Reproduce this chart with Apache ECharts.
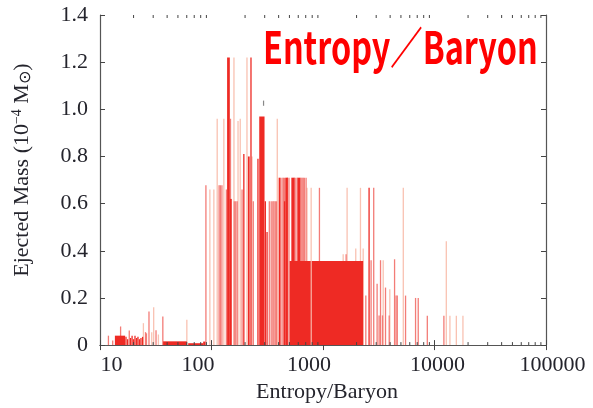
<!DOCTYPE html>
<html>
<head>
<meta charset="utf-8">
<script src="https://cdn.jsdelivr.net/npm/echarts@6/dist/echarts.min.js"></script>
<style>html,body{margin:0;padding:0;background:#fff;}#c{width:593px;height:408px;}</style>
</head>
<body>
<div id="c"></div>
<script>
// ---- data (entropy per baryon, ejected mass in 1e-4 Msun) ----
const darkBins = [ // [from, to, mass]
  [13.6, 16.8, 0.040], [36.8, 60.1, 0.016], [61.8, 84.2, 0.008], [84.2, 88, 0.015],
  [138, 146, 1.22], [146, 152, 0.62], [212, 220, 0.80], [268, 299, 0.97],
  [400, 417, 0.71], [446, 459, 0.61], [459, 484, 0.71], [520, 554, 0.71], [593, 628, 0.71],
  [502, 776, 0.357], [792, 2293, 0.357]
];
const darkBars = [ // [entropy, mass]
  [17.1, 0.035], [17.7, 0.025], [18.8, 0.030], [19.4, 0.040], [20.0, 0.025], [20.6, 0.040],
  [21.3, 0.030], [21.9, 0.035], [22.6, 0.025], [23.3, 0.030], [24.1, 0.035],
  [195, 0.81], [226, 1.22], [261, 0.79], [304, 0.61], [315, 0.48], [2590, 0.667]
];
const mediumBars = [
  [11.9, 0.040], [13.0, 0.020], [15.3, 0.079], [18.3, 0.062], [25.6, 0.055], [26.1, 0.050],
  [27.5, 0.142], [31.8, 0.063], [36.6, 0.121],
  [89.1, 0.678], [117, 0.678], [120, 0.678], [124, 0.678], [136, 0.66], [148, 0.96],
  [160, 0.61], [165, 0.61], [170, 0.61], [188, 0.66], [237, 0.61],
  [330, 0.61], [343, 0.61], [355, 0.61], [363, 0.61], [373, 0.61], [383, 0.61],
  [429, 0.71], [441, 0.71], [453, 0.71], [479, 0.71], [495, 0.71],
  [554, 0.71], [571, 0.71], [590, 0.71], [636, 0.71], [650, 0.71], [665, 0.71], [680, 0.71], [705, 0.71],
  [929, 0.667], [1612, 0.385], [2421, 0.21], [2700, 0.36], [2850, 0.667], [3057, 0.26],
  [3186, 0.126], [3280, 0.36], [3417, 0.126], [3636, 0.244], [3925, 0.126], [4384, 0.364],
  [4521, 0.21], [4636, 0.21], [5500, 0.21], [6762, 0.20], [7147, 0.20], [8621, 0.124], [12140, 0.124]
];
const lightBars = [
  [24.5, 0.093], [29.1, 0.055], [30.3, 0.16], [33.4, 0.045], [60.1, 0.107],
  [96.7, 0.66], [105, 0.66], [112.5, 0.96], [129, 0.96], [159, 1.22], [173, 0.95], [181, 0.96],
  [208, 1.22], [231, 0.80], [389, 0.96],
  [719, 0.667], [783, 0.667], [1517, 0.385], [1645, 0.667], [1967, 0.41], [2168, 0.667],
  [2293, 0.41], [3467, 0.36], [3975, 0.237], [5250, 0.667], [12760, 0.44], [13750, 0.124],
  [15700, 0.124], [17990, 0.124]
];
const strayMarks = [[293, 1.015, 1.037]]; // [entropy, from, to]
const xTickLabels = [10, 100, 1000, 10000, 100000];
const yTickLabels = ['0', '0.2', '0.4', '0.6', '0.8', '1.0', '1.2', '1.4'];
const minorTickValues = [];
[10, 100, 1000, 10000].forEach(d => { for (let k = 2; k <= 9; k++) minorTickValues.push([k * d, 0]); });

// ---- styles ----
const C_DARK = '#ee2a24', C_MED = '#f37c77', C_LIGHT = '#f9c2b2';
const BAR_W = 1.3;
const SERIF = '"Liberation Serif", "DejaVu Serif", serif';
const TXT = '#24242c';
const AX = '#555';
const labelShift = { 10: [0, 0, 0, 23], 100: [0, 27, 0, 0], 1000: [0, 28, 0, 0], 10000: [0, 0, 0, 6], 100000: [0, 0, 0, 13] };

function barItem(color) {
  return function (params, api) {
    const x = api.value(0), y = api.value(1);
    const p = api.coord([x, y]), p0 = api.coord([x, 0]);
    return { type: 'rect', shape: { x: p[0] - BAR_W / 2, y: p[1], width: BAR_W, height: p0[1] - p[1] }, style: { fill: color } };
  };
}
function binItem(color) {
  return function (params, api) {
    const a = api.coord([api.value(0), api.value(2)]);
    const b = api.coord([api.value(1), 0]);
    return { type: 'rect', shape: { x: a[0], y: a[1], width: Math.max(b[0] - a[0], BAR_W), height: b[1] - a[1] }, style: { fill: color } };
  };
}

const rich = {};
xTickLabels.forEach(v => { rich['r' + v] = { fontFamily: SERIF, fontSize: 22, color: TXT, padding: labelShift[v] }; });

const chart = echarts.init(document.getElementById('c'), null, { renderer: 'canvas' });
const baseX = {
  type: 'log', logBase: 10, min: 10, max: 100000, splitNumber: 4,
  axisLine: { show: true, lineStyle: { color: AX, width: 1.2 } },
  axisTick: { show: true, inside: true, length: 5, lineStyle: { color: '#444', width: 1 } },
  splitLine: { show: false }, minorTick: { show: false }
};
const baseY = {
  type: 'value', min: 0, max: 1.4, interval: 0.2,
  axisLine: { show: true, lineStyle: { color: AX, width: 1.2 } },
  axisTick: { show: true, inside: true, length: 5, lineStyle: { color: '#444', width: 1 } },
  splitLine: { show: false }
};
chart.setOption({
  animation: false,
  backgroundColor: '#fff',
  grid: { left: 100, right: 47, top: 15, bottom: 61 },
  xAxis: [
    Object.assign({}, baseX, {
      position: 'bottom',
      axisLabel: {
        margin: 9, showMinLabel: true, showMaxLabel: true, hideOverlap: false,
        formatter: v => { const r = Math.round(v); return '{r' + r + '|' + r + '}'; },
        rich: rich
      },
      name: 'Entropy/Baryon', nameLocation: 'middle', nameGap: 35,
      nameTextStyle: { fontFamily: SERIF, fontSize: 22, color: TXT, padding: [0, 0, 0, 8] }
    }),
    Object.assign({}, baseX, { position: 'top', axisLabel: { show: false } })
  ],
  yAxis: [
    Object.assign({}, baseY, {
      position: 'left',
      axisLabel: { margin: 12, fontFamily: SERIF, fontSize: 22, color: TXT, formatter: (v, i) => yTickLabels[i] },
      name: 'Ejected Mass (10{sup|−4} M{sub|⊙})', nameLocation: 'middle', nameGap: 66,
      nameTextStyle: {
        fontFamily: SERIF, fontSize: 22, color: TXT, padding: [0, 0, 0, 20],
        rich: {
          sup: { fontFamily: SERIF, fontSize: 14, color: TXT, verticalAlign: 'top', lineHeight: 24 },
          sub: { fontFamily: 'DejaVu Sans', fontSize: 16, color: TXT, verticalAlign: 'bottom', lineHeight: 24 }
        }
      }
    }),
    Object.assign({}, baseY, { position: 'right', axisLabel: { show: false } })
  ],
  graphic: [{
    type: 'text', x: 263, y: 47, scaleX: 0.735, z: 100,
    style: { text: 'Entropy／Baryon', font: 'bold 44px "Noto Sans CJK JP"', fill: '#ff0000', align: 'left', verticalAlign: 'middle' }
  }],
  series: [
    { type: 'custom', name: 'light', data: lightBars, encode: { x: 0, y: 1 }, renderItem: barItem(C_LIGHT), clip: true, z: 2 },
    { type: 'custom', name: 'medium', data: mediumBars, encode: { x: 0, y: 1 }, renderItem: barItem(C_MED), clip: true, z: 3 },
    { type: 'custom', name: 'darkBins', data: darkBins, encode: { x: [0, 1], y: 2 }, renderItem: binItem(C_DARK), clip: true, z: 4 },
    { type: 'custom', name: 'dark', data: darkBars, encode: { x: 0, y: 1 }, renderItem: barItem(C_DARK), clip: true, z: 4 },
    { type: 'custom', name: 'stray', data: strayMarks, encode: { x: 0, y: [1, 2] },
      renderItem: (p, api) => {
        const a = api.coord([api.value(0), api.value(2)]), b = api.coord([api.value(0), api.value(1)]);
        return { type: 'line', shape: { x1: a[0], y1: a[1], x2: b[0], y2: b[1] }, style: { stroke: '#888', lineWidth: 1.2 } };
      }, z: 5 },
    { type: 'custom', name: 'minorTicks', data: minorTickValues, encode: { x: 0, y: 1 }, clip: false, z: 6,
      renderItem: (p, api) => {
        const b = api.coord([api.value(0), 0]), t = api.coord([api.value(0), 1.4]);
        return { type: 'group', children: [
          { type: 'line', shape: { x1: b[0], y1: b[1], x2: b[0], y2: b[1] - 3 }, style: { stroke: '#444', lineWidth: 1 } },
          { type: 'line', shape: { x1: t[0], y1: t[1], x2: t[0], y2: t[1] + 3 }, style: { stroke: '#444', lineWidth: 1 } }
        ] };
      } }
  ]
});
</script>
</body>
</html>
